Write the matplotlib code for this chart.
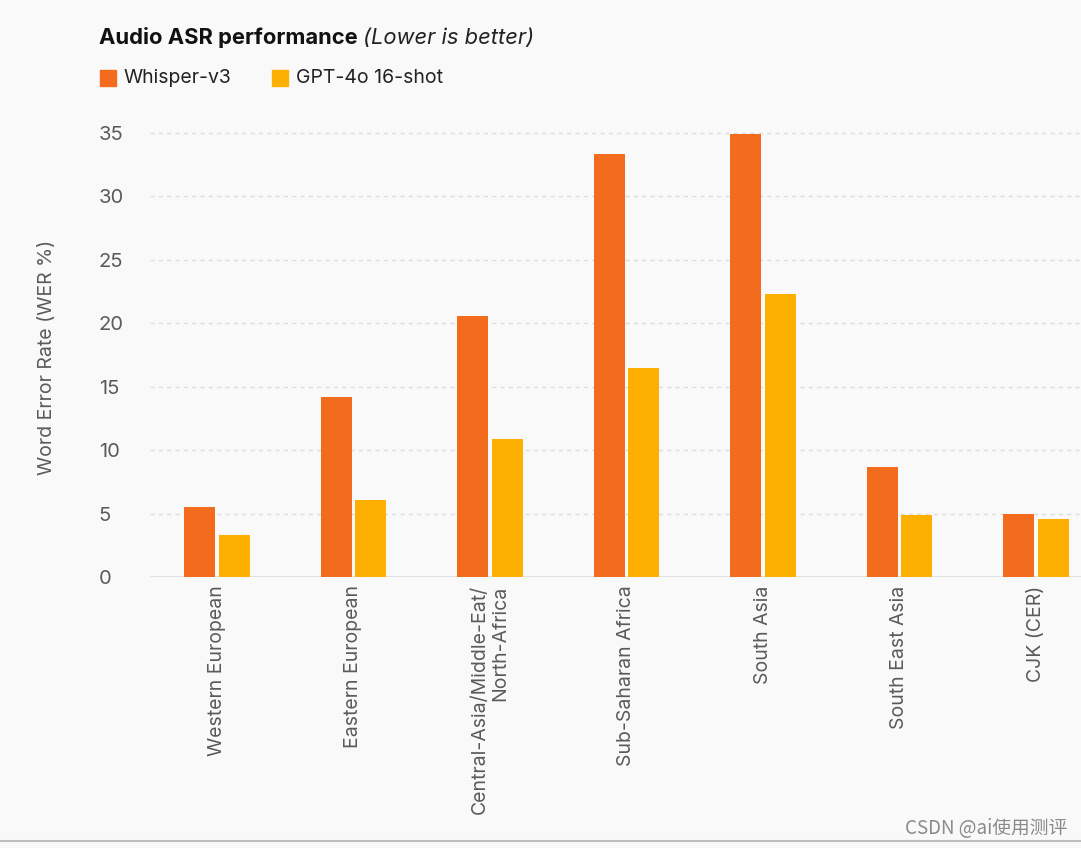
import matplotlib
matplotlib.use("Agg")
import matplotlib.pyplot as plt
import numpy as np
from matplotlib.lines import Line2D
from matplotlib.patches import Rectangle

# data
regions = [
    "Western European",
    "Eastern European",
    "Central-Asia/Middle-Eat/\nNorth-Africa",
    "Sub-Saharan Africa",
    "South Asia",
    "South East Asia",
    "CJK (CER)",
]
whisper_v3 = [5.5, 14.2, 20.6, 33.3, 34.9, 8.7, 5.0]
gpt4o_16shot = [3.3, 6.1, 10.9, 16.5, 22.3, 4.9, 4.6]
series_names = ["Whisper-v3", "GPT-4o 16-shot"]
y_ticks = [0, 5, 10, 15, 20, 25, 30, 35]

BG = "#f9f9f9"
ORANGE = "#f36b1c"
YELLOW = "#fdb002"
TEXT = "#5a5a5a"

plt.rcParams["font.family"] = ["Inter", "DejaVu Sans"]

W, H = 1081, 848
fig = plt.figure(figsize=(W / 100, H / 100), dpi=100, facecolor=BG)


def px(x, y):
    """pixel coords (top-left origin) -> figure fraction"""
    return x / W, 1 - y / H


ax_left, ax_right = 150, 1081
ax_bottom, ax_top = 577, 126.5
ax = fig.add_axes([
    ax_left / W, 1 - ax_bottom / H,
    (ax_right - ax_left) / W, (ax_bottom - ax_top) / H,
])
ax.set_facecolor(BG)

x = np.arange(len(regions))
width = 0.226
offset = 0.126
ax.bar(x - offset, whisper_v3, width, color=ORANGE, zorder=3)
ax.bar(x + offset, gpt4o_16shot, width, color=YELLOW, zorder=3)

ax.set_xlim(-0.49, 6.33)
ax.set_ylim(0, 35.5)

for s in ax.spines.values():
    s.set_visible(False)
ax.axhline(0, color="#dedede", lw=1.2, zorder=2)
for yv in y_ticks[1:]:
    ax.axhline(yv, color="#dcdcdc", lw=1.0, ls=(0, (3, 3)), zorder=1)

ax.set_yticks(y_ticks)
ax.set_yticklabels([str(v) for v in y_ticks])
ax.tick_params(axis="y", length=0, pad=37, labelsize=14.5, labelcolor=TEXT)
for lbl in ax.get_yticklabels():
    lbl.set_horizontalalignment("left")

ax.set_xticks(x)
ax.set_xticklabels(regions, rotation=90, va="top", ha="center",
                   multialignment="right")
ax.tick_params(axis="x", length=0, pad=6, labelsize=14, labelcolor=TEXT)

fig.text(*px(47, 357), "Word Error Rate (WER %)", rotation=90,
         ha="center", va="center", fontsize=14, color=TEXT)

# title: bold part followed by italic part
t1 = fig.text(*px(99, 44), "Audio ASR performance ", fontsize=15.8,
              fontweight="bold", color="#111111", va="baseline")
fig.canvas.draw()
bb = t1.get_window_extent()
fig.text(bb.x1 / W, 1 - 44 / H, "(Lower is better)", fontsize=15.8,
         style="italic", color="#222222", va="baseline")

# legend
for name, color, sx in zip(series_names, [ORANGE, YELLOW], [100, 272]):
    fig.add_artist(Rectangle(px(sx, 86), 16 / W, 16 / H, color=color,
                             transform=fig.transFigure))
    fig.text(*px(sx + 24, 78), name, fontsize=14, color="#222222",
             va="center")

# screenshot watermark and bottom border
fig.text(*px(1067, 829), "CSDN @ai使用测评", fontsize=13.5, color="#8a8a8a",
         ha="right", va="center",
         family=["Noto Sans CJK SC", "DejaVu Sans"])
fig.add_artist(Line2D([0, 1], [1 - 841 / H] * 2, color="#bdbdbd", lw=1.5,
                      transform=fig.transFigure))

fig.savefig("out.png", dpi=100, facecolor=BG)
